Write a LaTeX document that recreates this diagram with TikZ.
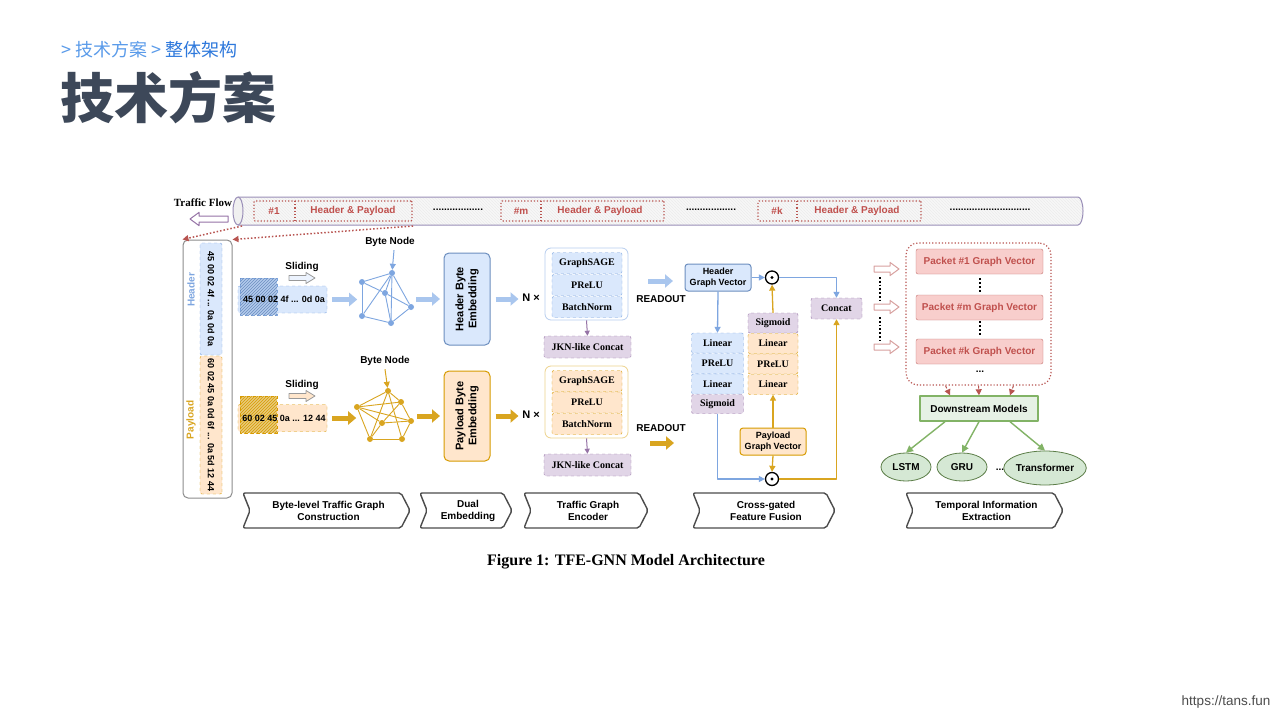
\documentclass[tikz,border=0pt]{standalone}
\usepackage{fontspec}
\setmainfont{Liberation Serif}
\setsansfont{Liberation Sans}
\newfontfamily\cjk{Noto Sans CJK SC}
\usetikzlibrary{arrows.meta,patterns,shapes.geometric,positioning}
% colours
\definecolor{hblue}{HTML}{DAE8FC}
\definecolor{hline}{HTML}{7EA6E0}
\definecolor{hdark}{HTML}{6C8EBF}
\definecolor{hfat}{HTML}{A9C6EE}
\definecolor{pfill}{HTML}{FFE6CC}
\definecolor{pline}{HTML}{D79B00}
\definecolor{pgold}{HTML}{D9A520}
\definecolor{jfill}{HTML}{E1D5E7}
\definecolor{jline}{HTML}{9673A6}
\definecolor{rfill}{HTML}{F8CECC}
\definecolor{rline}{HTML}{B85450}
\definecolor{rtext}{HTML}{C0504D}
\definecolor{gfill}{HTML}{D5E8D4}
\definecolor{gline}{HTML}{82B366}
\definecolor{titlec}{HTML}{3D4859}
\definecolor{crumbl}{HTML}{5A9BEA}
\definecolor{crumbd}{HTML}{2D78DC}
\definecolor{tubec}{HTML}{9A8FB8}
% fonts
\newcommand\sfs{\sffamily\bfseries\fontsize{9}{10.5}\selectfont}
\newcommand\sfm{\sffamily\bfseries\fontsize{10}{12}\selectfont}
\newcommand\sfl{\sffamily\bfseries\fontsize{11}{13}\selectfont}
\newcommand\rmb{\rmfamily\bfseries\fontsize{10}{12}\selectfont}
% bottom stage sign: x0, x1, name, text
\newcommand\stagebox[4]{%
  \draw[stageline] (#1,493) -- (#2-9,493) -- (#2,510.5) -- (#2-9,528) -- (#1,528) -- (#1+7,510.5) -- cycle;
  \node[stagetext] (#3) at ({(#1+#2)/2+2},510.5) {#4};}
% outlined block arrow: x0, x1, y, half body, style
\newcommand\hollowarrow[5]{%
  \pgfmathsetmacro\hd{ifthenelse(#2>#1,9,-9)}%
  \draw[#5] (#1,#3-#4) -- ({#2-(\hd)},#3-#4) -- ({#2-(\hd)},{#3-2.2*#4}) -- (#2,#3)
    -- ({#2-(\hd)},{#3+2.2*#4}) -- ({#2-(\hd)},#3+#4) -- (#1,#3+#4) -- cycle;}
\tikzset{
  stageline/.style={draw=black!70, line width=1.4pt, fill=white, rounded corners=2pt},
  stagetext/.style={font=\sfm, align=center},
  cell/.style={dashed, rounded corners=2pt, inner sep=0pt, font=\rmb},
  hcell/.style={cell, draw=hline, fill=hblue},
  pcell/.style={cell, draw=pline, fill=pfill},
  jcell/.style={cell, draw=jline, fill=jfill},
  frame/.style={rounded corners=6pt, fill=white, minimum width=83pt, minimum height=72pt, line width=0.8pt},
  vecbox/.style={rounded corners=3pt, line width=1pt, align=center, font=\sfs, minimum width=66pt, minimum height=27pt, inner sep=0pt},
  fatb/.style={draw=hfat, line width=5pt, -{Triangle[length=8pt,width=13pt]}},
  fatg/.style={draw=pgold, line width=5pt, -{Triangle[length=8pt,width=13pt]}},
  barrow/.style={draw=hline, line width=1.3pt, -{Triangle[length=6pt,width=6pt]}},
  garrow/.style={draw=pgold, line width=1.3pt, -{Triangle[length=6pt,width=6pt]}},
  parrow/.style={draw=jline, line width=1pt, -{Triangle[length=5pt,width=5pt]}},
  reddot/.style={draw=rline, dotted, line width=1.2pt},
  gnode/.style={circle, fill=#1, inner sep=0pt, minimum size=6pt},
  gate/.style={circle, draw=black, line width=1.3pt, fill=white, minimum size=13pt, inner sep=0pt},
  redtxt/.style={text=rtext, font=\sfm},
  vdot/.style={black, line width=1.8pt, dash pattern=on 1.8pt off 2pt},
}
\begin{document}
\begin{tikzpicture}[x=1pt, y=-1pt, line join=round, >=Stealth]
\useasboundingbox (0,0) rectangle (1280,720);
\fill[white] (0,0) rectangle (1280,720);
% title
\node[anchor=west, inner sep=0pt, text=crumbl, font={\cjk\fontsize{18}{20}\selectfont}] (crumb) at (61,50) {> 技术方案 > \textcolor{crumbd}{整体架构}};
\node[anchor=west, inner sep=0pt, text=titlec, font={\cjk\bfseries\fontsize{54}{60}\selectfont}] (title) at (60,98) {技术方案};
% traffic tube
\fill[gray!6] (238,197) -- (1078,197) arc[start angle=-90, end angle=90, x radius=5, y radius=14] -- (238,225) -- cycle;
\fill[pattern=north west lines, pattern color=gray!14] (238,197) -- (1078,197) arc[start angle=-90, end angle=90, x radius=5, y radius=14] -- (238,225) -- cycle;
\draw[tubec, line width=1pt] (238,197) -- (1078,197) arc[start angle=-90, end angle=90, x radius=5, y radius=14] -- (238,225);
\draw[tubec, line width=1pt, fill=gray!12] (238,211) ellipse [x radius=5, y radius=14];
\node[font={\rmfamily\bfseries\fontsize{11}{13}\selectfont}] (flow) at (203,203) {Traffic Flow};
\hollowarrow{228}{190}{219}{3}{draw=jline, line width=1pt, fill=white}
% packets in the flow
\node[reddot, rounded corners=1pt, minimum width=158pt, minimum height=20pt] (p1) at (333,211) {};
\draw[reddot] (295,201) -- (295,221);
\node[redtxt] (p1n) at (274,211) {\#1};
\node[redtxt] (p1t) at (353,211) {Header \& Payload};
\node[reddot, rounded corners=1pt, minimum width=163pt, minimum height=20pt] (pm) at (582.5,211) {};
\draw[reddot] (541,201) -- (541,221);
\node[redtxt] (pmn) at (521,211) {\#m};
\node[redtxt] (pmt) at (600,211) {Header \& Payload};
\node[reddot, rounded corners=1pt, minimum width=163pt, minimum height=20pt] (pk) at (839.5,211) {};
\draw[reddot] (797,201) -- (797,221);
\node[redtxt] (pkn) at (777,211) {\#k};
\node[redtxt] (pkt) at (857,211) {Header \& Payload};
\node[font=\sfm] (dots1) at (458,210) {..................};
\node[font=\sfm] (dots2) at (711,210) {..................};
\node[font=\sfm] (dots3) at (990,210) {.............................};
% left column: one packet
\node[draw=black!45, line width=1pt, rounded corners=5pt, fill=white, minimum width=49pt, minimum height=258pt] (col) at (207.5,369) {};
\coordinate (e1) at (242,226);
\coordinate (e2) at (413,226);
\draw[reddot, line width=1.5pt, -{Triangle[length=6pt,width=6pt]}] (e1) -- (col.north west);
\draw[reddot, line width=1.5pt, -{Triangle[length=6pt,width=6pt]}] (e2) -- (col.north east);
\node[hcell, font=\sfs, rotate=-90, minimum width=112pt, minimum height=22pt] (hstrip) at (211,299) {45 00 02 4f ... 0a 0d 0a};
\node[pcell, font=\sfs, rotate=-90, minimum width=138pt, minimum height=22pt] (pstrip) at (211,425) {60 02 45 0a 0d 6f ... 0a 5d 12 44};
\node[rotate=90, text=hline, font=\sfm] (hlab) at (191,290) {Header};
\node[rotate=90, text=pgold, font=\sfm] (plab) at (191,420) {Payload};
% header byte graph
\node[hcell, minimum width=89pt, minimum height=27pt] (hwin) at (282.5,299.5) {};
\draw[draw=hline, dashed, fill=hline!60] (240,278) rectangle (277,315);
\fill[pattern=north east lines, pattern color=hdark] (240,278) rectangle (277,315);
\node[font=\sfs] (htxt) at (284,299) {45 00 02 4f ... 0d 0a};
\node[font=\sfm] (hslide) at (302,267) {Sliding};
\hollowarrow{289}{315}{278}{2.5}{draw=black!40, line width=0.8pt, fill=hblue!50}
\draw[fatb] ([xshift=5pt]hwin.east) -- ([xshift=30pt]hwin.east);
\foreach \n/\x/\y in {a/362/282, b/392/273, c/385/293, d/411/307, e/362/316, f/391/323}
  \node[gnode=hline] (h\n) at (\x,\y) {};
\foreach \u/\v in {a/b, a/c, c/d, a/e, b/c, b/e, b/f, b/d, e/f, d/f, c/f}
  \draw[hline, line width=0.9pt] (h\u) -- (h\v);
\node[font=\sfm] (hbyte) at (390,242) {Byte Node};
\draw[barrow, line width=1pt] (hbyte.south) ++(4pt,0) -- (hb);
\draw[fatb] (416,299) -- (440,299);
\node[hcell, solid, draw=hdark, line width=1pt, rounded corners=5pt, font=\sfl, align=center, rotate=90, minimum width=92pt, minimum height=46pt] (hemb) at (467,299) {Header Byte\\Embedding};
\draw[fatb] ([xshift=5pt]hemb.south) -- ([xshift=28pt]hemb.south);
\node[font=\sfl] (hn) at (531,298) {N \texttimes};
% payload byte graph
\node[pcell, minimum width=89pt, minimum height=27pt] (pwin) at (282.5,418) {};
\draw[draw=pline, dashed, fill=pgold!60] (240,396) rectangle (277,433);
\fill[pattern=north east lines, pattern color=pline] (240,396) rectangle (277,433);
\node[font=\sfs] (ptxt) at (284,418) {60 02 45 0a ... 12 44};
\node[font=\sfm] (pslide) at (302,385) {Sliding};
\hollowarrow{289}{315}{396}{2.5}{draw=black!40, line width=0.8pt, fill=pfill}
\draw[fatg] ([xshift=5pt]pwin.east) -- ([xshift=29pt]pwin.east);
\foreach \n/\x/\y in {a/388/391, b/401/402, c/411/421, d/402/439, e/370/439, f/357/407, g/382/423}
  \node[gnode=pgold] (p\n) at (\x,\y) {};
\foreach \u/\v in {a/b, b/c, c/d, d/e, e/f, f/a, f/b, a/e, a/d, f/c, g/e, b/g, f/g, g/c}
  \draw[pgold, line width=0.9pt] (p\u) -- (p\v);
\node[font=\sfm] (pbyte) at (385,361) {Byte Node};
\draw[garrow, line width=1pt] (pbyte.south) -- (pa);
\draw[fatg] (417,416) -- (440,416);
\node[pcell, solid, draw=pline, line width=1pt, rounded corners=5pt, font=\sfl, align=center, rotate=90, minimum width=90pt, minimum height=46pt] (pemb) at (467,416) {Payload Byte\\Embedding};
\draw[fatg] ([xshift=5pt]pemb.south) -- ([xshift=28pt]pemb.south);
\node[font=\sfl] (pn) at (531,415) {N \texttimes};
% graph encoders
\node[frame, draw=hline!55] (henc) at (586.5,284) {};
\node[hcell, minimum width=70pt, minimum height=21pt] (hsage) at (587,263) {GraphSAGE};
\node[hcell, minimum width=70pt, minimum height=21pt] (hprelu) at (587,285) {PReLU};
\node[hcell, minimum width=70pt, minimum height=21pt] (hbn) at (587,307) {BatchNorm};
\node[jcell, minimum width=87pt, minimum height=22pt] (hjkn) at (587.5,347) {JKN-like Concat};
\draw[parrow] (henc.south) -- (hjkn.north);
\node[frame, draw=pline!45] (penc) at (586.5,402) {};
\node[pcell, minimum width=70pt, minimum height=21pt] (psage) at (587,381) {GraphSAGE};
\node[pcell, minimum width=70pt, minimum height=21pt] (pprelu) at (587,402.5) {PReLU};
\node[pcell, minimum width=70pt, minimum height=21pt] (pbn) at (587,424) {BatchNorm};
\node[jcell, minimum width=87pt, minimum height=22pt] (pjkn) at (587.5,465) {JKN-like Concat};
\draw[parrow] (penc.south) -- (pjkn.north);
% readout
\node[font=\sfm] (hread) at (661,299) {READOUT};
\draw[fatb] ([xshift=-13pt,yshift=18pt]hread.center) -- ([xshift=12pt,yshift=18pt]hread.center);
\node[font=\sfm] (pread) at (661,428) {READOUT};
\draw[fatg] ([xshift=-11pt,yshift=-15pt]pread.center) -- ([xshift=13pt,yshift=-15pt]pread.center);
% cross-gated fusion
\node[vecbox, draw=hdark, fill=hblue] (hgv) at (718,277.5) {Header\\Graph Vector};
\node[gate] (g1) at (772,277.5) {};
\fill (g1) circle (1.6pt);
\node[hcell, minimum width=52pt, minimum height=20pt] (bl1) at (717.5,343) {Linear};
\node[hcell, minimum width=52pt, minimum height=20pt] (bpr) at (717.5,363.5) {PReLU};
\node[hcell, minimum width=52pt, minimum height=20pt] (bl2) at (717.5,384) {Linear};
\node[jcell, minimum width=52pt, minimum height=19pt] (bsig) at (717.5,404) {Sigmoid};
\node[jcell, minimum width=50pt, minimum height=20pt] (osig) at (773,323) {Sigmoid};
\node[pcell, minimum width=50pt, minimum height=20pt] (ol1) at (773,343.5) {Linear};
\node[pcell, minimum width=50pt, minimum height=20pt] (opr) at (773,364) {PReLU};
\node[pcell, minimum width=50pt, minimum height=20pt] (ol2) at (773,384.5) {Linear};
\node[vecbox, draw=pline, fill=pfill] (pgv) at (773,441.5) {Payload\\Graph Vector};
\node[gate] (g2) at (772,479) {};
\fill (g2) circle (1.6pt);
\node[jcell, minimum width=51pt, minimum height=21pt] (cat) at (836.5,308.5) {Concat};
\draw[barrow] (hgv.east) -- (g1.west);
\draw[barrow] (hgv.south) -- (bl1.north);
\draw[barrow] (bsig.south) |- (g2.west);
\draw[garrow] (osig.north) -- (g1.south);
\draw[garrow] (pgv.north) -- (ol2.south);
\draw[garrow] (pgv.south) -- (g2.north);
\draw[barrow] (g1.east) -| (cat.north);
\draw[garrow] (g2.east) -| (cat.south);
% temporal part
\foreach \y in {269, 307, 347}
  \hollowarrow{874}{899}{\y}{3}{draw=rline!55, line width=1pt, fill=white}
\draw[vdot] (880,277) -- (880,300);
\draw[vdot] (880,317) -- (880,340);
\node[reddot, rounded corners=12pt, minimum width=145pt, minimum height=142pt] (pkts) at (978.5,314) {};
\node[draw=rline!80, fill=rfill, rounded corners=2pt, minimum width=127pt, minimum height=25pt, inner sep=0pt, redtxt] (v1) at (979.5,261.5) {Packet \#1 Graph Vector};
\node[draw=rline!80, fill=rfill, rounded corners=2pt, minimum width=127pt, minimum height=25pt, inner sep=0pt, redtxt] (vm) at (979.5,307.5) {Packet \#m Graph Vector};
\node[draw=rline!80, fill=rfill, rounded corners=2pt, minimum width=127pt, minimum height=25pt, inner sep=0pt, redtxt] (vk) at (979.5,351.5) {Packet \#k Graph Vector};
\draw[vdot, line width=1.6pt, dash pattern=on 1.6pt off 2.4pt] (980,278) -- (980,293);
\draw[vdot, line width=1.6pt, dash pattern=on 1.6pt off 2.4pt] (980,321) -- (980,336);
\node[font=\sfm, inner sep=0pt] (vd3) at (980,372) {...};
\node[draw=gline, fill=gfill!60, line width=1.4pt, minimum width=118pt, minimum height=25pt, inner sep=0pt, font=\sfm] (ds) at (979,408.5) {Downstream Models};
\draw[reddot, dashed, line width=1pt, -{Triangle[length=6pt,width=6pt]}] ([xshift=-33pt]pkts.south) -- ([xshift=-29pt]ds.north);
\draw[reddot, dashed, line width=1pt, -{Triangle[length=6pt,width=6pt]}] (pkts.south) -- (ds.north);
\draw[reddot, dashed, line width=1pt, -{Triangle[length=6pt,width=6pt]}] ([xshift=35pt]pkts.south) -- ([xshift=31pt]ds.north);
\node[ellipse, draw=gline!70!black, fill=gfill, line width=0.8pt, minimum width=50pt, minimum height=28pt, inner sep=0pt, font=\sfm] (lstm) at (906,467) {LSTM};
\node[ellipse, draw=gline!70!black, fill=gfill, line width=0.8pt, minimum width=50pt, minimum height=28pt, inner sep=0pt, font=\sfm] (gru) at (962,467) {GRU};
\node[font=\sfm, inner sep=0pt] (mdots) at (1000,470) {...};
\node[ellipse, draw=gline!70!black, fill=gfill, line width=0.8pt, minimum width=72pt, minimum height=34pt, inner sep=0pt, font=\sfm] (trans) at (1045,468) {Transformer};
\draw[draw=gline, line width=1.4pt, -{Triangle[length=7pt,width=7pt]}] ([xshift=-34pt]ds.south) -- (lstm.north);
\draw[draw=gline, line width=1.4pt, -{Triangle[length=7pt,width=7pt]}] (ds.south) -- (gru.north);
\draw[draw=gline, line width=1.4pt, -{Triangle[length=7pt,width=7pt]}] ([xshift=31pt]ds.south) -- (trans.north);
% stages
\stagebox{243}{410}{s1}{Byte-level Traffic Graph\\Construction}
\stagebox{420}{512}{s2}{Dual\\Embedding}
\stagebox{524}{648}{s3}{Traffic Graph\\Encoder}
\stagebox{693}{835}{s4}{Cross-gated\\Feature Fusion}
\stagebox{906}{1063}{s5}{Temporal Information\\Extraction}
% caption
\node[font={\rmfamily\bfseries\fontsize{16}{18}\selectfont}] (cap) at (626,562) {Figure 1: TFE-GNN Model Architecture};
\node[text=black!70, font={\sffamily\fontsize{13.5}{15}\selectfont}] (url) at (1226,702) {https://tans.fun};
\end{tikzpicture}
\end{document}
